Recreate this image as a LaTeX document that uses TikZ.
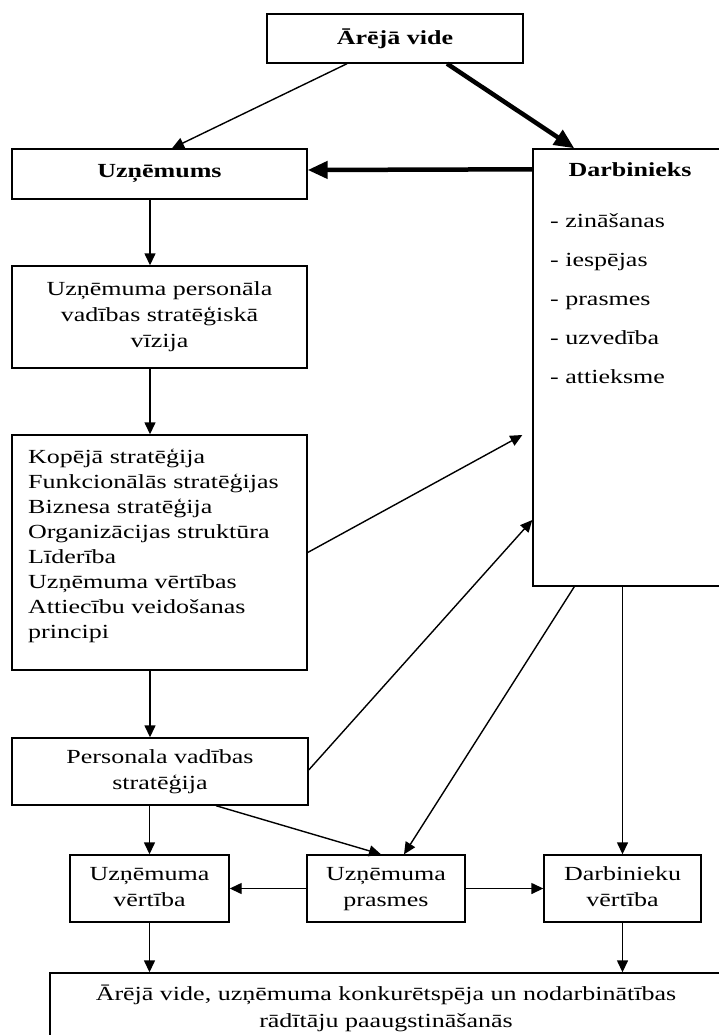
\documentclass[tikz,border=0pt]{standalone}
\usepackage{fontspec}
\setmainfont{Liberation Serif}[FakeStretch=1.3]
\usetikzlibrary{arrows.meta,calc}
\begin{document}
\begin{tikzpicture}[x=1pt,y=-1pt,
  txt/.style={font=\fontsize{20}{26}\selectfont},
  box/.style={draw, line width=1.4pt, inner sep=0pt, align=center, txt},
  pair/.style={box, text depth=4pt},
  boldtxt/.style={font=\fontsize{20}{26}\selectfont\bfseries},
  arr/.style={line width=1.4pt, -{Triangle[length=12pt,width=11pt]}},
  bigarr/.style={line width=4.5pt, -{Triangle[length=20pt,width=17pt]}}]
\useasboundingbox (0,0) rectangle (719,1035);
\clip (0,0) rectangle (719,1035);

% boxes
\node[box, boldtxt, minimum width=256pt, minimum height=49pt] (top) at (395,38.5) {Ārējā vide};
\node[box, boldtxt, minimum width=295pt, minimum height=50pt] (uz) at (159.5,174) {Uzņēmums};
\node[box, minimum width=295pt, minimum height=102pt] (vis) at (159.5,317)
  {Uzņēmuma personāla\\vadības stratēģiskā\\vīzija};
\node[box, minimum width=295pt, minimum height=235pt] (strat) at (159.5,552.5) {};
\node[box, minimum width=194pt, minimum height=437pt] (darb) at (630,367.5) {};
\node[pair, minimum width=296pt, minimum height=67pt] (pers) at (160,771.5)
  {Personala vadības\\stratēģija};
\node[pair, minimum width=159pt, minimum height=67pt] (uv) at (149.5,888.5) {Uzņēmuma\\vērtība};
\node[pair, minimum width=158pt, minimum height=67pt] (up) at (386,888.5) {Uzņēmuma\\prasmes};
\node[pair, minimum width=157pt, minimum height=67pt] (dv) at (622.5,888.5) {Darbinieku\\vērtība};
\node[box, minimum width=672pt, minimum height=71pt, font=\fontsize{20}{27}\selectfont] (bot) at (386,1008.5)
  {Ārējā vide, uzņēmuma konkurētspēja un nodarbinātības\\rādītāju paaugstināšanās};

% strategy list
\foreach \t [count=\i from 0] in {Kopējā stratēģija, Funkcionālās stratēģijas, Biznesa stratēģija,
    Organizācijas struktūra, Līderība, Uzņēmuma vērtības, Attiecību veidošanas, principi}
  \node[txt, anchor=base west, inner sep=0pt] (s\i) at (28,463+25*\i) {\t};

% employee box contents
\node[boldtxt, anchor=base, inner sep=0pt] (dtitle) at (630,177) {Darbinieks};
\foreach \t [count=\i from 0] in {zināšanas, iespējas, prasmes, uzvedība, attieksme}
  \node[txt, anchor=base west, inner sep=0pt] (d\i) at (550,227+39.2*\i) {- \t};

% connectors
\draw[arr] ($(top.south)+(-48,0)$) -- ($(uz.north)+(12.5,0)$);
\draw[bigarr] ($(top.south)+(52,0)$) -- ($(darb.north west)+(42,0)$);
\draw[bigarr] ($(darb.north west)+(0,21)$) -- ($(uz.east)+(0,-4)$);
\draw[arr] ($(uz.south)+(-9.5,0)$) -- ($(vis.north)+(-9.5,0)$);
\draw[arr] ($(vis.south)+(-9.5,0)$) -- ($(strat.north)+(-9.5,0)$);
\draw[arr] ($(strat.south)+(-9.5,0)$) -- ($(pers.north)+(-10,0)$);
\draw[arr] (strat.east) -- ($(darb.west)+(-10,67.5)$);
\draw[arr] ($(pers.east)+(0,-1.5)$) -- ($(darb.west)+(0,152.5)$);
\draw[arr] ($(pers.south)+(56,0)$) -- ($(up.north)+(-5,0)$);
\draw[arr] ($(darb.south west)+(42,0)$) -- ($(up.north)+(18,0)$);
\draw[arr] (dv.north |- darb.south) -- (dv.north);
\draw[arr] (uv.north |- pers.south) -- (uv.north);
\draw[arr] (up.west) -- (uv.east);
\draw[arr] (up.east) -- (dv.west);
\draw[arr] (uv.south) -- (uv.south |- bot.north);
\draw[arr] (dv.south) -- (dv.south |- bot.north);
\end{tikzpicture}
\end{document}
